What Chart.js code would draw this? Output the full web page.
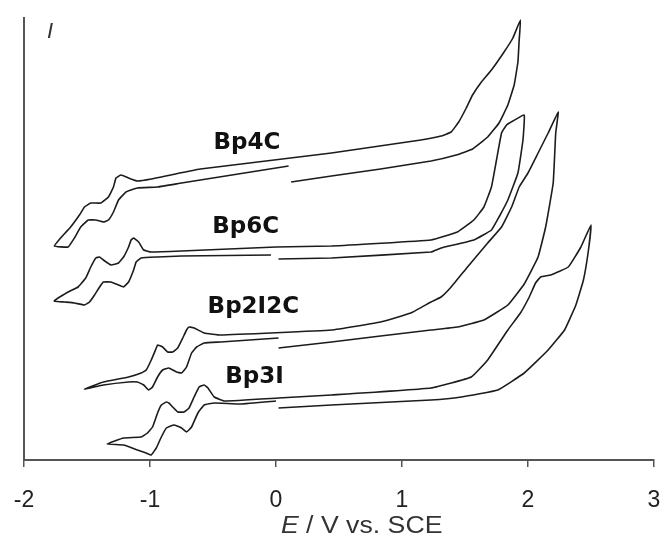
<!DOCTYPE html>
<html><head><meta charset="utf-8">
<script src="https://cdn.jsdelivr.net/npm/chart.js@4.4.1/dist/chart.umd.min.js"></script>
<style>html,body{margin:0;padding:0;background:#fff}#wrap{width:662px;height:540px}</style>
</head><body><div id="wrap"><canvas id="c" width="662" height="540"></canvas></div>
<script>
// x tick labels (potential, V vs. SCE)
const xTicks = [-2, -1, 0, 1, 2, 3];
const seriesNames = ['Bp4C', 'Bp6C', 'Bp2I2C', 'Bp3I'];

// Bp4C cyclic voltammogram (E in V, I in arbitrary units)
const bp4cE = [0.10,-0.60,-0.75,-0.94,-1.10,-1.19,-1.25,-1.29,-1.33,-1.37,-1.43,-1.49,-1.55,-1.60,-1.65,-1.76,
  -1.71,-1.63,-1.56,-1.52,-1.47,-1.39,-1.33,-1.29,-1.27,-1.23,-1.17,-1.10,-0.99,-0.60,0.44,1.15,1.31,1.39,1.45,1.51,1.56,1.63,1.71,1.81,1.88,1.94,
  1.93,1.92,1.89,1.84,1.77,1.68,1.56,1.43,1.23,0.83,0.44,0.12];
const bp4cI = [294,280,277,273,272,268,260,248,240,238,240,240,233,222,213,214,
  222,233,245,253,257,257,263,273,282,285,282,279,281,291,307,320,324,328,338,352,365,378,390,408,422,440,
  420,398,375,355,337,323,311,305,299,291,284,278];

// Bp6C
const bp6cE = [-0.04,-0.75,-0.94,-1.07,-1.11,-1.13,-1.17,-1.21,-1.25,-1.31,-1.37,-1.40,-1.44,-1.48,-1.52,-1.60,-1.68,-1.76,
  -1.65,-1.57,-1.51,-1.47,-1.43,-1.40,-1.37,-1.31,-1.25,-1.21,-1.17,-1.15,-1.13,-1.09,-1.05,-0.99,-0.75,0.00,0.44,1.23,1.44,1.57,1.65,1.71,1.75,1.79,1.83,1.88,1.97,
  1.96,1.92,1.84,1.77,1.71,1.57,1.31,1.23,0.44,0.02];
const bp6cI = [205,204,203,202,198,190,178,173,175,178,178,173,165,158,155,157,158,159,
  168,173,182,193,202,203,200,195,197,203,213,220,222,218,210,208,209,213,214,220,228,240,253,273,300,327,335,339,345,
  320,287,260,243,230,220,212,208,202,201];

// Bp2I2C
const bp2i2cE = [0.02,-0.44,-0.57,-0.63,-0.67,-0.71,-0.75,-0.79,-0.85,-0.90,-0.94,-0.98,-1.01,-1.05,-1.10,-1.17,-1.37,-1.52,
  -1.37,-1.17,-1.07,-1.03,-0.99,-0.95,-0.94,-0.90,-0.86,-0.82,-0.78,-0.74,-0.71,-0.69,-0.65,-0.57,-0.44,0.44,0.83,1.07,1.23,1.31,1.39,1.52,1.68,1.79,1.87,1.93,2.00,2.08,2.16,2.24,
  2.22,2.20,2.14,2.08,1.97,1.84,1.65,1.44,1.23,0.83,0.44,0.02];
const bp2i2cI = [122,118,117,113,107,93,87,88,92,90,83,73,70,75,78,78,75,71,
  78,83,87,90,100,112,115,113,108,108,112,122,130,133,132,127,125,130,138,147,158,163,173,193,217,233,253,273,287,307,327,348,
  327,277,233,203,176,155,140,133,130,124,118,112];

// Bp3I
const bp3iE = [0.00,-0.28,-0.49,-0.57,-0.62,-0.67,-0.71,-0.75,-0.81,-0.87,-0.91,-0.95,-0.99,-1.03,-1.10,-1.21,-1.34,
  -1.21,-1.07,-1.02,-0.98,-0.94,-0.91,-0.87,-0.85,-0.82,-0.78,-0.73,-0.69,-0.65,-0.61,-0.57,-0.54,-0.49,-0.41,0.02,0.44,1.23,1.55,1.68,1.84,1.94,2.01,2.06,2.10,2.18,2.32,2.42,2.50,
  2.48,2.44,2.38,2.29,2.16,1.97,1.76,1.47,1.23,0.44,0.02];
const bp3iI = [59,56,57,55,47,33,28,32,35,32,23,12,5,7,10,15,16,
  22,23,27,33,47,55,58,57,53,48,48,52,63,73,75,72,63,59,62,65,72,83,100,130,147,163,177,183,185,193,213,235,
  210,180,155,130,110,87,70,63,60,55,52];

// where each name label sits (data units: centre E, baseline I)
const labelAnchors = [[-0.23, 311], [-0.24, 227], [-0.18, 147], [-0.17, 77]];

const curves = [[bp4cE, bp4cI], [bp6cE, bp6cI], [bp2i2cE, bp2i2cI], [bp3iE, bp3iI]];

const textPlugin = {
  id: 'cvTexts',
  afterDatasetsDraw(chart) {
    const {ctx, chartArea, scales: {x, y}} = chart;
    ctx.save();
    ctx.fillStyle = '#111';
    ctx.font = 'bold 23px "DejaVu Sans"';
    ctx.textAlign = 'center';
    ctx.textBaseline = 'alphabetic';
    seriesNames.forEach((n, i) => {
      ctx.fillText(n, x.getPixelForValue(labelAnchors[i][0]), y.getPixelForValue(labelAnchors[i][1]));
    });
    // y-axis symbol
    ctx.fillStyle = '#333';
    ctx.textAlign = 'left';
    ctx.font = 'italic 22px "Liberation Sans"';
    ctx.fillText('I', chartArea.left + 23, chartArea.top + 20);
    // x-axis title with italic E
    const cx = x.getPixelForValue(0.68);
    const base = 533;
    ctx.font = 'italic 23px "Liberation Sans"';
    const wE = ctx.measureText('E').width;
    ctx.font = '23px "Liberation Sans"';
    const rest = ' / V vs. SCE';
    const wR = ctx.measureText(rest).width;
    const sx = 1.16;
    ctx.translate(cx, base);
    ctx.scale(sx, 1);
    const start = -(wE + wR) / 2;
    ctx.font = 'italic 23px "Liberation Sans"';
    ctx.fillText('E', start, 0);
    ctx.font = '23px "Liberation Sans"';
    ctx.fillText(rest, start + wE, 0);
    ctx.restore();
  }
};

new Chart(document.getElementById('c'), {
  type: 'scatter',
  data: {
    datasets: curves.map((c, i) => ({
      label: seriesNames[i],
      data: c[0].map((e, k) => ({x: e, y: c[1][k]})),
      showLine: true,
      borderColor: '#1c1c1c',
      borderWidth: 1.6,
      pointRadius: 0,
      tension: 0.1,
      fill: false
    }))
  },
  options: {
    responsive: false,
    animation: false,
    devicePixelRatio: 1,
    layout: {padding: {left: 24, right: 8, top: 18, bottom: 0}},
    plugins: {legend: {display: false}, tooltip: {enabled: false}},
    scales: {
      x: {
        type: 'linear', min: -2, max: 3,
        afterBuildTicks: s => { s.ticks = xTicks.map(v => ({value: v})); },
        afterFit: s => { s.height = 80; s.paddingLeft = 0; s.paddingRight = 0; },
        ticks: {color: '#222', font: {family: '"Liberation Sans", Arial', size: 23}, padding: 20,
          maxRotation: 0, autoSkip: false, callback: v => String(v)},
        grid: {drawOnChartArea: false, drawTicks: true, tickLength: 7, color: '#555', lineWidth: 1.5},
        border: {color: '#555', width: 2}
      },
      y: {
        min: 0, max: 442,
        afterFit: s => { s.width = 0; s.paddingTop = 0; s.paddingBottom = 0; },
        ticks: {display: false},
        grid: {drawOnChartArea: false, drawTicks: false},
        border: {color: '#555', width: 2}
      }
    }
  },
  plugins: [textPlugin]
});
</script>
</body></html>
